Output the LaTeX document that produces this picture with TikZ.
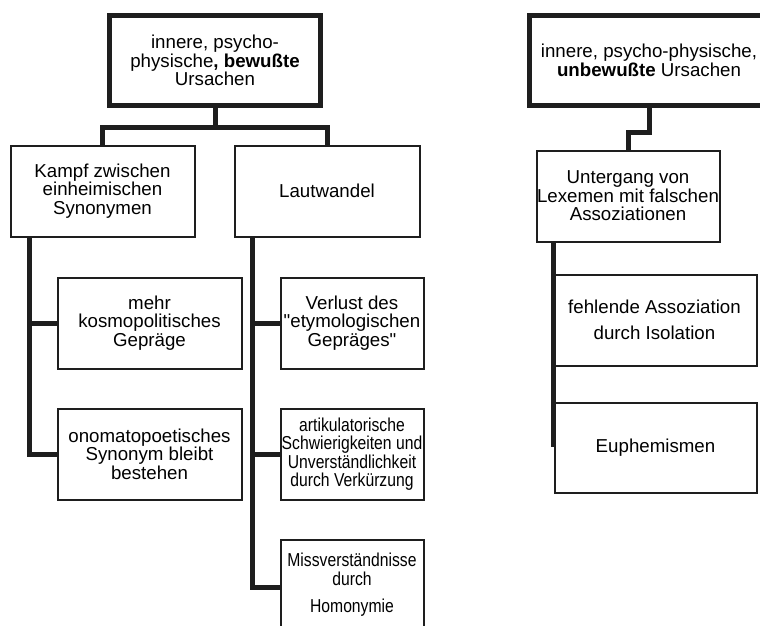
\documentclass[tikz,border=0pt]{standalone}
\usepackage{fontspec}
\setmainfont{Liberation Sans}[Ligatures=TeXOff]
\newfontfamily\narrowfont{Liberation Sans}[FakeStretch=0.84]
\definecolor{InkBlack}{HTML}{1E1E1E}
\usetikzlibrary{positioning, calc}

\begin{document}
\begin{tikzpicture}[
  x=1pt, y=-1pt,
  box/.style={draw=InkBlack, line width=2pt, fill=white, align=center,
    inner sep=0pt, minimum width=#1, minimum height=91pt,
    font=\fontsize{18.7}{18.5}\selectfont},
  box/.default={184pt},
  rootbox/.style={box=#1, line width=5pt, minimum height=90pt},
  narrow/.style={font=\fontsize{18.7}{18.5}\selectfont\narrowfont},
  conn/.style={draw=InkBlack, line width=5pt, line join=miter}
]
\useasboundingbox (0,0) rectangle (760,625);

% Left tree: bewusste Ursachen
\node[rootbox=211pt] (l_top) at (215, 60.5)
  {innere, psycho-\\physische\textbf{, bewußte}\\Ursachen};
\node[box] (l_kampf) at (102.5, 191)
  {Kampf zwischen\\einheimischen\\Synonymen};
\node[box=185pt] (l_laut) at (327, 191) {Lautwandel};
\node[box] (l_mehr) at (149.5, 323)
  {mehr\\kosmopolitisches\\Gepräge};
\node[box] (l_onom) at (149.5, 454)
  {onomatopoetisches\\Synonym bleibt\\bestehen};
\node[box=143pt] (l_verl) at (352, 323)
  {Verlust des\\"etymologischen\\Gepräges"};
\node[box=143pt, narrow] (l_artik) at (352, 454)
  {artikulatorische\\Schwierigkeiten und\\Unverständlichkeit\\durch Verkürzung};
\node[box=143pt, narrow, minimum height=90pt] (l_miss) at (352, 585)
  {Missverständnisse\\durch\\[9pt]Homonymie};

\coordinate (l_split) at (215, 127);
\draw[conn] (l_top.south) -- (l_split);
\draw[conn] (l_kampf.north) |- (l_split) -| (l_laut.north);
\draw[conn] ([xshift=20pt]l_kampf.south west) |- (l_mehr.west);
\draw[conn] ([xshift=20pt]l_kampf.south west) |- (l_onom.west);
\draw[conn] ([xshift=19pt]l_laut.south west) |- (l_verl.west);
\draw[conn] ([xshift=19pt]l_laut.south west) |- (l_artik.west);
\draw[conn] ([xshift=19pt]l_laut.south west) |- ([yshift=-2pt]l_miss.west);

% Right tree: unbewusste Ursachen
\node[rootbox=240pt] (r_top) at (649, 60.5)
  {innere, psycho-physische,\\\textbf{unbewußte} Ursachen};
\node[box=183pt] (r_unterg) at (628, 196)
  {Untergang von\\Lexemen mit falschen\\Assoziationen};
\node[box=204pt] (r_fehl) at (654.5, 320)
  {fehlende Assoziation\\[8pt]durch Isolation};
\node[box=202pt, minimum height=90pt] (r_euph) at (655.5, 447.5) {Euphemismen};

\draw[conn] (r_top.south) -- ++(0, 24) -| (r_unterg.north);
\coordinate (r_end) at (553, 447);
\draw[conn] (r_unterg.south -| r_end) -- (r_end);

\end{tikzpicture}
\end{document}
